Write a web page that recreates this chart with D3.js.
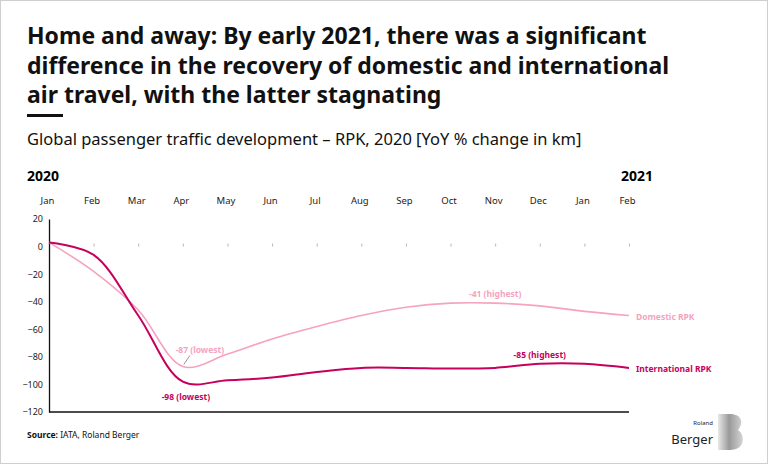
<!DOCTYPE html>
<html>
<head>
<meta charset="utf-8">
<script src="https://cdn.jsdelivr.net/npm/d3@7"></script>
<style>
  body { margin: 0; background: #fff; }
  svg { display: block; font-family: "Noto Sans", sans-serif; }
</style>
</head>
<body>
<div id="chart"></div>
<script>
// month ticks Jan 2020 .. Feb 2021
const months = ['Jan', 'Feb', 'Mar', 'Apr', 'May', 'Jun', 'Jul', 'Aug', 'Sep', 'Oct', 'Nov', 'Dec', 'Jan', 'Feb']
const domestic = [3, -18, -46, -87, -78, -67, -58, -50, -44, -41, -41, -43, -47, -50]
const international = [3, -6, -50, -98, -97, -95, -91, -88, -88, -88.5, -88, -85, -85, -88]
const yTicks = [20, 0, -20, -40, -60, -80, -100, -120]
const titleLines = [
  'Home and away: By early 2021, there was a significant',
  'difference in the recovery of domestic and international',
  'air travel, with the latter stagnating'
]

const W = 768, H = 464
const svg = d3.select('#chart').append('svg')
  .attr('width', W)
  .attr('height', H)

svg.append('rect')
  .attr('x', 0.5).attr('y', 0.5)
  .attr('width', W - 1).attr('height', H - 1)
  .style('fill', '#fff')
  .style('stroke', '#cfcfcf')

const title = svg.append('text')
  .attr('x', 27)
  .style('font-size', '23px')
  .style('font-weight', 'bold')
  .style('fill', '#111')
titleLines.forEach((t, i) => {
  title.append('tspan').attr('x', 27).attr('y', 44 + i * 29.5).text(t)
})

svg.append('rect')
  .attr('x', 27).attr('y', 114)
  .attr('width', 36).attr('height', 3)
  .style('fill', '#111')

svg.append('text')
  .attr('x', 27).attr('y', 145)
  .style('font-size', '16.5px')
  .style('fill', '#111')
  .text('Global passenger traffic development – RPK, 2020 [YoY % change in km]')

svg.append('text')
  .attr('x', 27).attr('y', 181)
  .style('font-size', '14px').style('font-weight', 'bold')
  .text('2020')
svg.append('text')
  .attr('x', 621).attr('y', 181)
  .style('font-size', '14px').style('font-weight', 'bold')
  .text('2021')

const x = d3.scaleLinear().domain([0, months.length - 1]).range([49, 629])
const y = d3.scaleLinear().domain([-120, 20]).range([412, 219])

// month labels across the top
svg.append('g')
  .attr('transform', 'translate(-2, 207)')
  .call(d3.axisTop(x).tickValues(d3.range(months.length)).tickFormat(i => months[i]).tickSize(0))
  .call(g => g.select('.domain').remove())
  .call(g => g.selectAll('text')
    .style('font-family', '"Noto Sans", sans-serif')
    .style('font-size', '9.5px')
    .style('fill', '#222'))

// little tick marks on the zero line
svg.append('g')
  .attr('transform', `translate(0, ${y(0)})`)
  .call(d3.axisBottom(x).tickValues(d3.range(1, months.length)).tickSize(-3).tickFormat(''))
  .call(g => g.select('.domain').remove())
  .call(g => g.selectAll('line').style('stroke', '#999').style('stroke-width', 0.7))

svg.append('g')
  .attr('transform', `translate(${x(0)}, 0)`)
  .call(d3.axisLeft(y).tickValues(yTicks).tickSize(0).tickPadding(6))
  .call(g => g.select('.domain').style('stroke', '#111').style('stroke-width', 1.3))
  .call(g => g.selectAll('text')
    .style('font-family', '"Noto Sans", sans-serif')
    .style('font-size', '9px')
    .style('fill', '#222'))

svg.append('line')
  .attr('x1', x(0)).attr('x2', x(months.length - 1))
  .attr('y1', y(-120)).attr('y2', y(-120))
  .style('stroke', '#111').style('stroke-width', 1.3)

const line = d3.line()
  .x((d, i) => x(i))
  .y(d => y(d))
  .curve(d3.curveCatmullRom.alpha(0.5))

svg.append('path')
  .attr('d', line(domestic))
  .style('fill', 'none')
  .style('stroke', '#f5a3bf')
  .style('stroke-width', 1.6)

svg.append('path')
  .attr('d', line(international))
  .style('fill', 'none')
  .style('stroke', '#c6005c')
  .style('stroke-width', 2)

function label(text, lx, ly, color, anchor) {
  svg.append('text')
    .attr('x', lx).attr('y', ly)
    .attr('text-anchor', anchor || 'middle')
    .style('font-size', '8.5px')
    .style('font-weight', 'bold')
    .style('fill', color)
    .text(text)
}

const last = months.length - 1
label('Domestic RPK', x(last) + 7, y(domestic[last]) + 4, '#f5a3bf', 'start')
label('International RPK', x(last) + 7, y(international[last]) + 4, '#c6005c', 'start')
label('-41 (highest)', x(10), y(-41) - 6, '#f5a3bf')
label('-85 (highest)', x(11), y(-85) - 6, '#c6005c')
label('-87 (lowest)', x(3) + 17, y(-87) - 14, '#f5a3bf')
label('-98 (lowest)', x(3) + 3, y(-98) + 18, '#c6005c')

svg.append('line')
  .attr('x1', x(3) + 7).attr('y1', y(-87) - 11)
  .attr('x2', x(3) + 1).attr('y2', y(-87) - 2)
  .style('stroke', '#555').style('stroke-width', 0.6)

svg.append('text')
  .attr('x', 27).attr('y', 438)
  .style('font-size', '8.5px')
  .style('fill', '#111')
  .call(t => t.append('tspan').style('font-weight', 'bold').text('Source: '))
  .call(t => t.append('tspan').text('IATA, Roland Berger'))

// logo
const grad = svg.append('defs').append('linearGradient')
  .attr('id', 'bgrad')
  .attr('x1', '0').attr('x2', '1')
grad.append('stop').attr('offset', '0').attr('stop-color', '#e8e8e8')
grad.append('stop').attr('offset', '0.45').attr('stop-color', '#9a9a9a')
grad.append('stop').attr('offset', '1').attr('stop-color', '#d4d4d4')

svg.append('path')
  .attr('d', 'M718,414 L730,414 C742,414 744,423 738,430 C745,434 746,450 730,450 L718,450 Z')
  .style('fill', 'url(#bgrad)')

svg.append('text')
  .attr('x', 713).attr('y', 425)
  .attr('text-anchor', 'end')
  .style('font-size', '6px')
  .style('fill', '#222')
  .text('Roland')
svg.append('text')
  .attr('x', 713).attr('y', 444)
  .attr('text-anchor', 'end')
  .style('font-size', '13px')
  .style('fill', '#222')
  .text('Berger')
</script>
</body>
</html>
